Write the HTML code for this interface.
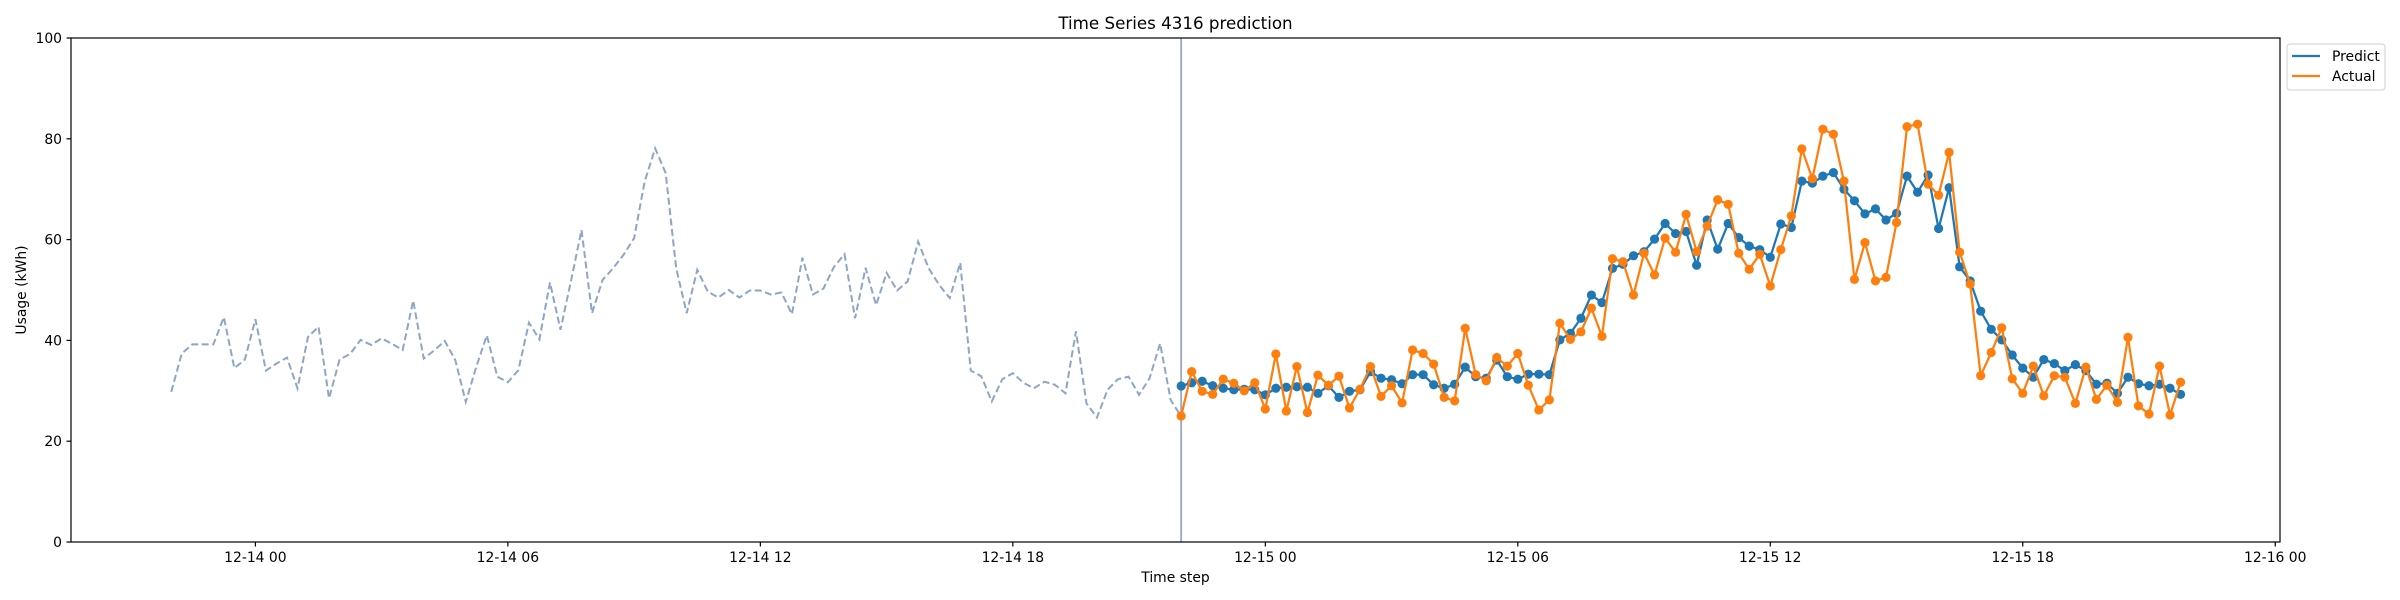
<!DOCTYPE html>
<html><head><meta charset="utf-8"><style>
html,body{margin:0;padding:0;background:#fff;}
svg{display:block;font-family:"DejaVu Sans","Liberation Sans",sans-serif;}
</style></head><body>
<svg id="chart" width="2400" height="600" viewBox="0 0 2400 600" xmlns="http://www.w3.org/2000/svg">
<rect width="2400" height="600" fill="#fff"/>
<text x="1175.5" y="29" text-anchor="middle" font-size="16.7" fill="#000">Time Series 4316 prediction</text>
<g id="grid"></g>
<g id="marks"></g>
<rect x="71" y="38" width="2209" height="504" fill="none" stroke="#000" stroke-width="1.2"/>
<g id="axes"></g>
<text x="1175.5" y="582" text-anchor="middle" font-size="13.9">Time step</text>
<text transform="translate(26,290) rotate(-90)" text-anchor="middle" font-size="13.9">Usage (kWh)</text>
<g>
<rect x="2287" y="44" width="98" height="46" rx="3" fill="#fff" stroke="#d0d0d0" stroke-width="1"/>
<line x1="2292" y1="56" x2="2320" y2="56" stroke="#1f77b4" stroke-width="2.25"/>
<text x="2332" y="61" font-size="13.9">Predict</text>
<line x1="2292" y1="76" x2="2320" y2="76" stroke="#ff7f0e" stroke-width="2.25"/>
<text x="2332" y="81" font-size="13.9">Actual</text>
</g>
</svg>
<script>
const historyValues = [29.8,37.4,39.2,39.2,39.2,44.6,34.5,36.2,44.2,34.0,35.4,36.6,30.5,40.7,42.7,28.5,36.2,37.3,40.1,39.1,40.4,39.3,38.1,47.9,36.4,38.0,39.9,36.1,27.8,34.8,41.0,32.8,31.7,34.1,43.5,40.2,51.5,42.1,51.8,61.9,45.4,52.0,54.3,57.0,60.3,71.5,78.1,73.2,54.3,45.4,54.0,49.7,48.5,50.0,48.5,49.9,49.9,49.1,49.5,45.2,56.4,49.1,50.3,54.6,57.1,44.4,54.4,47.0,53.4,49.9,51.7,59.6,54.3,51.0,48.4,55.4,34.0,32.9,27.9,32.3,33.5,31.6,30.5,31.8,31.2,29.5,41.8,27.5,24.7,30.2,32.3,32.8,29.2,32.5,39.4,28.2,24.9];
const predictValues = [30.95,31.6,31.9,31.0,30.5,30.2,30.3,30.2,29.2,30.5,30.7,30.8,30.7,29.5,31.0,28.7,29.9,30.2,33.8,32.5,32.2,31.4,33.2,33.2,31.2,30.5,31.3,34.7,32.8,32.5,36.1,32.8,32.3,33.3,33.3,33.2,40.1,41.4,44.4,49.0,47.5,54.3,55.1,56.8,57.6,60.1,63.2,61.2,61.6,54.9,63.9,58.1,63.2,60.4,58.7,58.0,56.5,63.1,62.4,71.6,71.2,72.6,73.3,70.0,67.7,65.1,66.1,63.9,65.2,72.6,69.4,72.8,62.2,70.3,54.6,51.8,45.8,42.2,40.1,37.1,34.5,32.7,36.2,35.4,34.0,35.2,34.0,31.3,31.5,29.5,32.7,31.4,31.0,31.3,30.5,29.3];
const actualValues = [25.0,33.8,29.9,29.3,32.3,31.5,30.0,31.6,26.4,37.3,26.0,34.8,25.7,33.1,31.1,32.9,26.6,30.3,34.8,28.9,31.0,27.6,38.1,37.4,35.3,28.7,28.0,42.4,33.2,32.0,36.6,34.9,37.4,31.1,26.2,28.2,43.4,40.2,41.7,46.4,40.8,56.2,55.6,49.0,57.3,53.0,60.3,57.5,65.0,57.6,62.7,67.9,67.0,57.3,54.1,57.1,50.8,58.0,64.7,78.0,72.1,81.9,80.9,71.6,52.1,59.4,51.8,52.5,63.4,82.4,82.9,71.0,68.8,77.3,57.5,51.2,33.0,37.6,42.5,32.4,29.5,34.9,29.0,33.0,32.7,27.5,34.7,28.3,31.1,27.7,40.6,27.0,25.4,34.9,25.2,31.7];
const historyStartHour = -2;   // hours relative to 12-14 00:00
const forecastStartHour = 22;
const stepHours = 0.25;
const yTicks = [0,20,40,60,80,100];
const xTickHours = [0,6,12,18,24,30,36,42,48];
const xTickLabels = ["12-14 00","12-14 06","12-14 12","12-14 18","12-15 00","12-15 06","12-15 12","12-15 18","12-16 00"];

const NS = "http://www.w3.org/2000/svg";
const X0 = 255.4, PXH = 42.08, YB = 542, YT = 38;
function xScale(h){ return X0 + h*PXH; }
function yScale(v){ return YB - (v/100)*(YB-YT); }
function mk(tag, attrs, parent){ const e=document.createElementNS(NS,tag); for(const k in attrs) e.setAttribute(k,attrs[k]); parent.appendChild(e); return e; }
const marks=document.getElementById('marks'), axes=document.getElementById('axes');

yTicks.forEach(v=>{
  const y=yScale(v);
  const t=mk('line',{x1:66.5,x2:71,y1:y,y2:y,stroke:'#000','stroke-width':1.2},axes);
  
  
  const l=mk('text',{x:62,y:y+5,'text-anchor':'end','font-size':13.9},axes);
  l.textContent=v;
  
  
});
xTickHours.forEach((h,i)=>{
  const x=xScale(h);
  const t=mk('line',{x1:x,x2:x,y1:542,y2:546.5,stroke:'#000','stroke-width':1.2},axes);
  
  
  const l=mk('text',{x:x,y:562,'text-anchor':'middle','font-size':13.9},axes);
  l.textContent=xTickLabels[i];
  
  
});

const hp=historyValues.map((v,i)=>xScale(historyStartHour+i*stepHours).toFixed(2)+','+yScale(v).toFixed(2)).join(' ');
const hist=mk('polyline',{points:hp,fill:'none',stroke:'#8ea6c6','stroke-width':2,'stroke-dasharray':'7,3.5'},marks);



const vx=xScale(forecastStartHour);
const vl=mk('line',{x1:vx,x2:vx,y1:38,y2:542,stroke:'#9aa8d0','stroke-width':1.8},marks);



function series(vals,color,name){
  const pts=vals.map((v,i)=>xScale(forecastStartHour+i*stepHours).toFixed(2)+','+yScale(v).toFixed(2)).join(' ');
  const pl=mk('polyline',{points:pts,fill:'none',stroke:color,'stroke-width':2.25},marks);
  
  
  vals.forEach((v,i)=>{
    const c=mk('circle',{cx:xScale(forecastStartHour+i*stepHours),cy:yScale(v),r:4.6,fill:color},marks);
    
    
  });
}
series(predictValues,'#1f77b4','predict');
series(actualValues,'#ff7f0e','actual');
</script>
</body></html>
